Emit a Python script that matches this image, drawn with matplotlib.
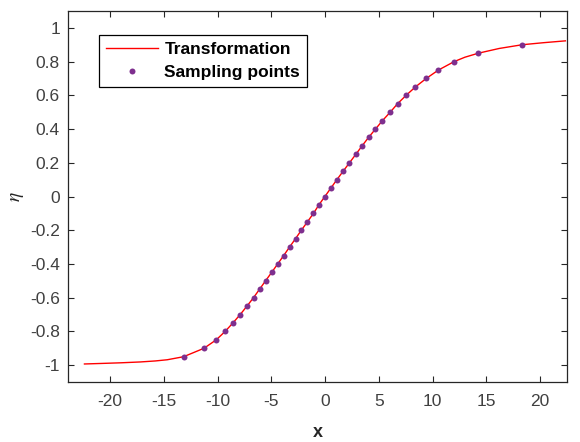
import numpy as np
import matplotlib.pyplot as plt

plt.rcParams['font.family'] = ['Liberation Sans', 'DejaVu Sans']
plt.rcParams['mathtext.fontset'] = 'stix'

# sampling points
eta_pts = [-0.95, -0.90, -0.85, -0.80, -0.75, -0.70, -0.65, -0.60, -0.55, -0.50,
           -0.45, -0.40, -0.35, -0.30, -0.25, -0.20, -0.15, -0.10, -0.05, 0.00,
           0.05, 0.10, 0.15, 0.20, 0.25, 0.30, 0.35, 0.40, 0.45, 0.50,
           0.55, 0.60, 0.65, 0.70, 0.75, 0.80, 0.85, 0.90]
x_pts = [-13.18, -11.28, -10.14, -9.31, -8.59, -7.91, -7.28, -6.67, -6.11, -5.55,
         -4.98, -4.42, -3.86, -3.32, -2.76, -2.22, -1.65, -1.09, -0.59, -0.03,
         0.53, 1.09, 1.67, 2.26, 2.85, 3.43, 4.03, 4.68, 5.33, 6.05,
         6.73, 7.53, 8.40, 9.40, 10.54, 12.00, 14.26, 18.33]

# extra curve points in the tails
x_tail_left = [-22.4, -20.9, -19.0, -17.2, -15.8, -14.7]
eta_tail_left = [-0.993, -0.990, -0.986, -0.981, -0.975, -0.968]
x_mid_right = [13.0, 16.2]
eta_mid_right = [0.826, 0.878]
x_tail_right = [20.3, 22.35]
eta_tail_right = [0.912, 0.923]

x_curve = np.array(x_tail_left + x_pts + x_mid_right + x_tail_right)
eta_curve = np.array(eta_tail_left + eta_pts + eta_mid_right + eta_tail_right)
order = np.argsort(x_curve)
x_curve = x_curve[order]
eta_curve = eta_curve[order]

fig = plt.figure(figsize=(5.8, 4.42), dpi=100)
ax = fig.add_axes([0.1178, 0.1357, 0.8598, 0.8394])

ax.plot(x_curve, eta_curve, color='#ff0000', lw=1.0, label='Transformation')
ax.plot(x_pts, eta_pts, 'o', color='#7E2F8E', markersize=4.3, markeredgewidth=0,
        label='Sampling points')

ax.set_xlim(-23.9, 22.5)
ax.set_ylim(-1.1, 1.1)
ax.set_xticks([-20, -15, -10, -5, 0, 5, 10, 15, 20])
ax.set_yticks(np.round(np.arange(-1, 1.01, 0.2), 1))
ax.set_yticklabels(['-1', '-0.8', '-0.6', '-0.4', '-0.2', '0', '0.2', '0.4', '0.6', '0.8', '1'])
ax.set_xticklabels(['-20', '-15', '-10', '-5', '0', '5', '10', '15', '20'])

ax.tick_params(direction='in', top=True, right=True, length=4, width=0.8,
               labelsize=12.5, labelcolor='#404040', color='#262626')
ax.tick_params(axis='x', pad=8.5)
ax.tick_params(axis='y', pad=6)
for s in ax.spines.values():
    s.set_color('#262626')
    s.set_linewidth(0.9)

ax.set_xlabel('x', fontsize=13, fontweight='bold', color='#262626', labelpad=11)
ax.set_ylabel(r'$\eta$', fontsize=14, color='#262626')
ax.yaxis.set_label_coords(-0.085, 0.5)

leg = ax.legend(loc='upper left', bbox_to_anchor=(0.062, 0.935), borderaxespad=0,
                frameon=True, fancybox=False, framealpha=1, edgecolor='black',
                prop={'weight': 'bold', 'size': 12.5}, handlelength=3.0,
                handletextpad=0.35, borderpad=0.4, labelspacing=0.45)
leg.get_frame().set_linewidth(0.9)

fig.savefig('out.png', dpi=100)
